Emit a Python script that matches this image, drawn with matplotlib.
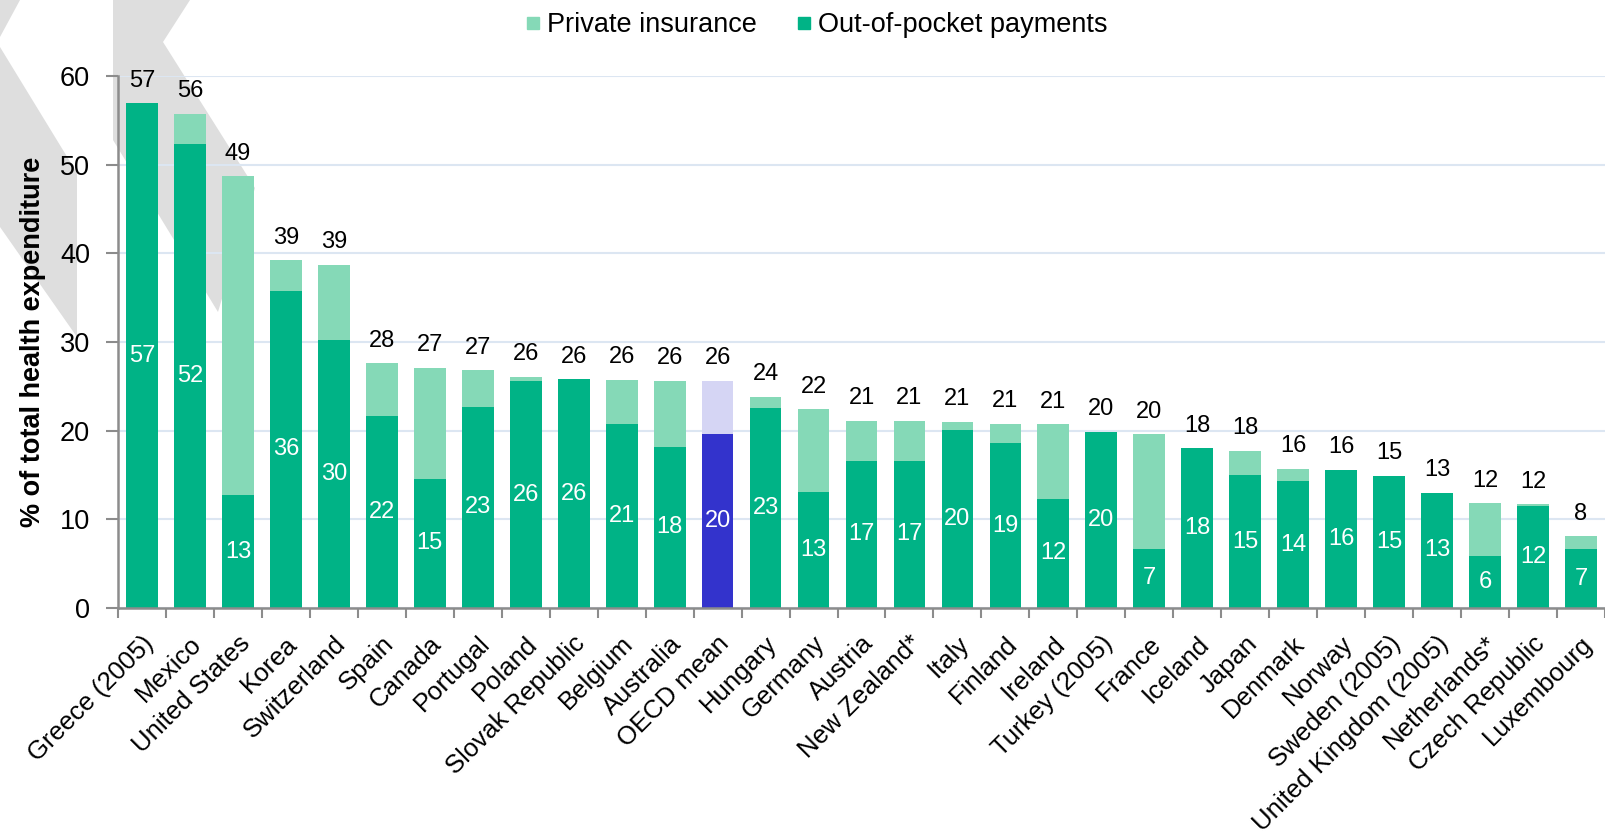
"""Private insurance and out-of-pocket payments as share of total health expenditure."""
import matplotlib.pyplot as plt
import numpy as np
from matplotlib.lines import Line2D
from matplotlib.patches import Polygon
from matplotlib.transforms import ScaledTranslation

countries = [
    "Greece (2005)", "Mexico", "United States", "Korea", "Switzerland", "Spain",
    "Canada", "Portugal", "Poland", "Slovak Republic", "Belgium", "Australia",
    "OECD mean", "Hungary", "Germany", "Austria", "New Zealand*", "Italy",
    "Finland", "Ireland", "Turkey (2005)", "France", "Iceland", "Japan",
    "Denmark", "Norway", "Sweden (2005)", "United Kingdom (2005)",
    "Netherlands*", "Czech Republic", "Luxembourg",
]
out_of_pocket = [
    56.9, 52.3, 12.7, 35.8, 30.2, 21.6, 14.6, 22.7, 25.6, 25.8, 20.8, 18.2,
    19.6, 22.6, 13.1, 16.6, 16.6, 20.1, 18.6, 12.3, 19.9, 6.7, 18.0, 15.0,
    14.3, 15.6, 14.9, 13.0, 5.9, 11.55, 6.6,
]
private_insurance = [
    0.0, 3.4, 36.0, 3.4, 8.5, 6.0, 12.5, 4.1, 0.5, 0.0, 4.9, 7.4,
    6.0, 1.2, 9.3, 4.5, 4.5, 0.9, 2.2, 8.4, 0.0, 12.9, 0.0, 2.7,
    1.4, 0.0, 0.0, 0.0, 5.9, 0.15, 1.5,
]
highlight = "OECD mean"

W, H = 1605, 835
LEFT, TOP, BOTTOM = 118, 76, 608   # plot area in pixels
STEP = 48.31                       # pixels per category
DARK = "#00B386"
LIGHT = "#85D9B7"
BLUE = "#3333CC"
LAVENDER = "#D5D5F4"
GREY = "#8C8C8C"

plt.rcParams["font.family"] = ["Liberation Sans", "DejaVu Sans"]


def px(points):
    """Pixel coords (origin top-left) -> figure fraction."""
    return [(x / W, 1 - y / H) for x, y in points]


fig = plt.figure(figsize=(W / 100, H / 100), dpi=100)

# watermark shapes behind the chart
formas = [
    [(0, 0), (20, 0), (0, 37)],
    [(0, 47), (77, 173), (77, 337), (0, 227)],
    [(113, 0), (190, 0), (163, 42), (255, 188), (218, 312), (113, 140)],
]
for forma in formas:
    fig.patches.append(Polygon(px(forma), closed=True, transform=fig.transFigure,
                               facecolor="#DEDEDE", edgecolor="none", zorder=-1))

ax = fig.add_axes([LEFT / W, 1 - BOTTOM / H, 1 - LEFT / W, (BOTTOM - TOP) / H])
ax.set_facecolor("none")

x = np.arange(len(countries))
cor_oop = [BLUE if c == highlight else DARK for c in countries]
cor_pi = [LAVENDER if c == highlight else LIGHT for c in countries]

ax.bar(x, out_of_pocket, width=0.662, color=cor_oop, zorder=2)
ax.bar(x, private_insurance, width=0.662, bottom=out_of_pocket, color=cor_pi, zorder=2)

for xi, oop, pi in zip(x, out_of_pocket, private_insurance):
    total = oop + pi
    ax.annotate(f"{total:.0f}", (xi, total), xytext=(0, 12), textcoords="offset points",
                ha="center", va="baseline", fontsize=17, color="black")
    ax.text(xi, oop / 2, f"{oop:.0f}", ha="center", va="center",
            fontsize=17, color="white", zorder=3)

ax.set_xlim(-0.5, (W - LEFT) / STEP - 0.5)
ax.set_ylim(0, 60)
ax.set_yticks(range(0, 61, 10))
ax.yaxis.grid(True, color="#DCE6F2", linewidth=1.5)
ax.set_axisbelow(True)

for lado in ("top", "right"):
    ax.spines[lado].set_visible(False)
for lado in ("left", "bottom"):
    ax.spines[lado].set_color(GREY)
    ax.spines[lado].set_linewidth(1.8)

ax.tick_params(axis="y", direction="out", length=9, width=1.5, color=GREY,
               labelsize=19.5, pad=11)
ax.set_xticks(x)
ax.set_xticks(np.arange(-0.5, len(countries), 1.0), minor=True)
ax.tick_params(axis="x", which="major", length=0, pad=23)
ax.tick_params(axis="x", which="minor", direction="out", length=7, width=1.5, color=GREY)
ax.set_xticklabels(countries, rotation=45, ha="right", va="center",
                   rotation_mode="anchor", fontsize=18.5)
deslocamento = ScaledTranslation(8 / 100, 0, fig.dpi_scale_trans)
for rotulo in ax.get_xticklabels():
    rotulo.set_transform(rotulo.get_transform() + deslocamento)

ax.set_ylabel("% of total health expenditure", fontsize=19.5, fontweight="bold", labelpad=10)

elementos_legenda = [
    Line2D([0], [0], marker="s", linestyle="none", markersize=9,
           markerfacecolor=LIGHT, markeredgecolor=LIGHT, label="Private insurance"),
    Line2D([0], [0], marker="s", linestyle="none", markersize=9,
           markerfacecolor=DARK, markeredgecolor=DARK, label="Out-of-pocket payments"),
]
fig.legend(handles=elementos_legenda, loc="center", bbox_to_anchor=(817 / W, 1 - 25 / H),
           ncol=2, frameon=False, fontsize=19.5, handlelength=0.5, handletextpad=0.25,
           columnspacing=1.5)

fig.savefig("out.png", dpi=100)
